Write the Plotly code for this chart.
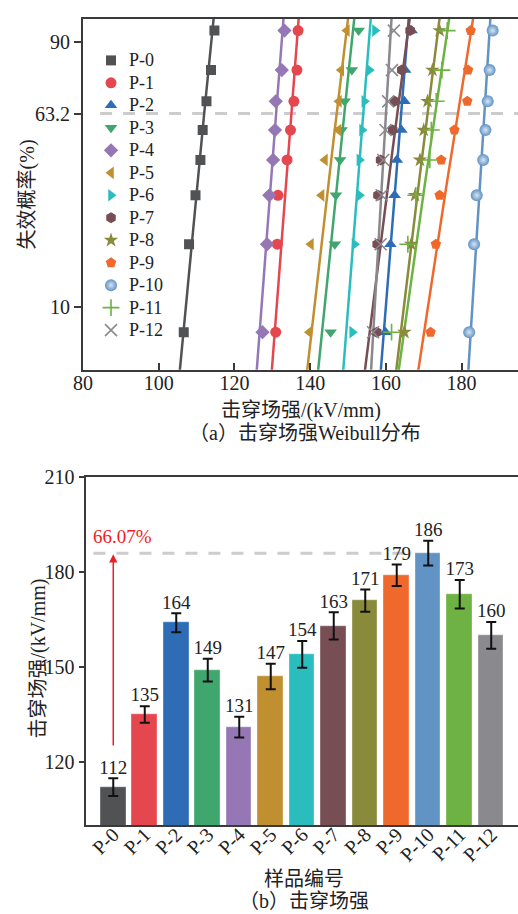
import numpy as np
import plotly.graph_objects as go

# Sample names and colours
samples = ["P-0", "P-1", "P-2", "P-3", "P-4", "P-5", "P-6",
           "P-7", "P-8", "P-9", "P-10", "P-11", "P-12"]
colors = ["#505254", "#e5474f", "#2e6db5", "#3fa66e", "#9577b5", "#c08f2f",
          "#2bbdbd", "#784e55", "#8a8a3b", "#f0692c", "#6193c4", "#6db242", "#8a8a8e"]
symbols = ["square", "circle", "triangle-up", "triangle-down", "diamond",
           "triangle-left", "triangle-right", "hexagon", "star", "pentagon",
           "circle", "cross-thin", "x-thin"]

# Failure probability (%) assigned to the ranked specimens
fail_prob = [7.6, 19.7, 32.1, 44.2, 56.2, 68.4, 80.9, 92.7]

# Measured breakdown strengths (kV/mm), ranked
bd_p0 = [106.6, 108.0, 109.7, 111.0, 111.6, 112.6, 113.8, 114.7]
bd_p1 = [130.9, 131.3, 131.5, 133.9, 134.8, 135.7, 136.5, 136.8]
bd_p2 = [159.9, 161.2, 162.3, 162.9, 164.1, 164.9, 165.1, 166.8]
bd_p3 = [145.4, 146.5, 146.8, 147.9, 148.3, 149.1, 151.0, 152.8]
bd_p4 = [127.4, 128.6, 129.2, 130.2, 130.7, 130.9, 132.5, 133.2]
bd_p5 = [139.8, 140.2, 143.0, 143.9, 147.5, 147.6, 148.2, 149.7]
bd_p6 = [151.1, 151.7, 153.0, 153.0, 153.7, 154.3, 155.6, 157.1]
bd_p7 = [157.6, 157.7, 157.9, 158.6, 161.8, 162.3, 164.2, 166.4]
bd_p8 = [164.9, 166.7, 167.7, 169.0, 170.0, 171.0, 172.3, 174.2]
bd_p9 = [171.8, 173.2, 174.2, 174.6, 178.1, 181.5, 181.7, 182.4]
bd_p10 = [182.0, 183.3, 184.0, 185.7, 186.3, 186.9, 187.4, 188.2]
bd_p11 = [161.5, 165.8, 167.9, 171.6, 172.0, 173.3, 174.8, 176.2]
bd_p12 = [156.6, 158.6, 158.9, 159.3, 159.9, 160.6, 161.6, 162.1]
bd_points = [bd_p0, bd_p1, bd_p2, bd_p3, bd_p4, bd_p5, bd_p6,
             bd_p7, bd_p8, bd_p9, bd_p10, bd_p11, bd_p12]

# Weibull scale (characteristic strength) and shape parameters
scale_alpha = [112, 135, 164, 149, 131, 147, 154, 163, 171, 179, 186, 173, 160]
shape_beta = [50.2, 76.7, 89.7, 62.7, 74.6, 54.6, 85.4, 55.3, 60.0, 49.5, 130.0, 52.0, 120.0]
# Standard deviation of breakdown strength
bd_err = [2.8, 2.6, 3.0, 3.6, 3.3, 4.0, 4.2, 4.3, 3.5, 3.4, 3.9, 4.5, 4.2]

# Weibull probability axis ticks
prob_ticks = [10, 63.2, 90]
bar_ticks = [120, 150, 180, 210]


def weibull_y(p_percent):
    p = np.asarray(p_percent, dtype=float) / 100.0
    return np.log(-np.log(1.0 - p))


W, H = 518, 914
SERIF = "Liberation Serif, Times New Roman, Noto Sans CJK SC, serif"
AXC = "#3a3a3a"
TXT = "#222222"


def marker_style(i):
    thin = symbols[i].endswith("-thin")
    m = dict(symbol=symbols[i], size=12 if thin else 11, color=colors[i],
             line=dict(width=1.6 if thin else 0, color=colors[i]))
    if samples[i] == "P-10":
        m["gradient"] = dict(type="radial", color="#d6e5f3")
        m["size"] = 12
    if samples[i] == "P-0":
        m["size"] = 10
    return m


fig = go.Figure()

# ---- (a) Weibull plot ----
y_pts = weibull_y(fail_prob)
z_line = np.linspace(-3.3, 1.3, 60)
for i, name in enumerate(samples):
    x_line = scale_alpha[i] * np.exp(z_line / shape_beta[i])
    fig.add_trace(go.Scatter(
        x=x_line, y=z_line, mode="lines", xaxis="x", yaxis="y",
        line=dict(color=colors[i], width=2.5), showlegend=False, hoverinfo="skip"))
for i, name in enumerate(samples):
    fig.add_trace(go.Scatter(
        x=bd_points[i], y=y_pts, mode="markers", name=name, xaxis="x", yaxis="y",
        marker=marker_style(i), showlegend=False))

y_top_lo, y_top_hi = -2.972, 1.098
x_top_lo, x_top_hi = 80, 194.9
fig.add_shape(type="line", xref="x", yref="y", x0=84.5, x1=x_top_hi, y0=0, y1=0,
              line=dict(color="#cccccc", width=3, dash="12px,11px"), layer="below")

# Legend of (a): drawn on a page-sized pixel overlay
leg_x, leg_y0, leg_dy, leg_txt_dx = 103, 50, 22.75, 16
for i, name in enumerate(samples):
    ly = leg_y0 + i * leg_dy
    fig.add_trace(go.Scatter(
        x=[leg_x], y=[ly], mode="markers", xaxis="x3", yaxis="y3",
        marker=marker_style(i), showlegend=False, hoverinfo="skip"))
    fig.add_annotation(xref="x3", yref="y3", x=leg_x + leg_txt_dx, y=ly, text=name,
                       showarrow=False, xanchor="left", yanchor="middle",
                       font=dict(family=SERIF, size=18, color=TXT))

# ---- (b) bar chart ----
xi = list(range(len(samples)))
fig.add_trace(go.Bar(
    x=xi, y=scale_alpha, xaxis="x2", yaxis="y2", width=0.81, showlegend=False,
    marker=dict(color=colors, line=dict(color="rgba(255,255,255,0.35)", width=1)),
    error_y=dict(type="data", array=bd_err, visible=True, color="#111111",
                 thickness=2, width=5)))
fig.add_trace(go.Scatter(
    x=xi, y=[v + e for v, e in zip(scale_alpha, bd_err)], xaxis="x2", yaxis="y2",
    mode="text", text=[str(v) for v in scale_alpha], textposition="top center",
    textfont=dict(family=SERIF, size=19, color=TXT), showlegend=False,
    hoverinfo="skip"))

ref_val = scale_alpha[10]
fig.add_shape(type="line", xref="x2", yref="y2", x0=-0.63, x1=10 - 0.405,
              y0=ref_val, y1=ref_val,
              line=dict(color="#cccccc", width=3, dash="12px,11px"), layer="below")
fig.add_annotation(xref="x2", yref="y2", x=0, y=ref_val - 0.3, ax=0, ay=124.7,
                   axref="x2", ayref="y2", showarrow=True, arrowhead=2,
                   arrowsize=1.1, arrowwidth=1.5, arrowcolor="#ee1c25", text="")
fig.add_annotation(xref="x2", yref="y2", x=-0.72, y=191.3, xanchor="left",
                   text="66.07%", showarrow=False,
                   font=dict(family=SERIF, size=19, color="#ee1c25"))

# ---- axes ----
def pdom(y_top_px, y_bot_px):
    return [1 - y_bot_px / H, 1 - y_top_px / H]

common_axis = dict(showline=True, linecolor=AXC, linewidth=2, showgrid=False,
                   zeroline=False, tickfont=dict(family=SERIF, size=20, color=TXT))

fig.update_layout(
    width=W, height=H, margin=dict(l=0, r=0, t=0, b=0),
    paper_bgcolor="white", plot_bgcolor="rgba(0,0,0,0)",
    font=dict(family=SERIF, size=18, color=TXT),
    bargap=0, showlegend=False,
    xaxis=dict(domain=[74.5 / W, 1], range=[x_top_lo, x_top_hi], anchor="y",
               tickvals=[80, 100, 120, 140, 160, 180], ticks="inside", ticklen=7,
               tickwidth=1.5, tickcolor=AXC, mirror=True, ticklabelstandoff=-6,
               **common_axis),
    yaxis=dict(domain=pdom(8, 363), range=[y_top_lo, y_top_hi], anchor="x",
               tickvals=list(weibull_y(prob_ticks)),
               ticktext=[str(t) for t in prob_ticks], ticks="outside", ticklen=7,
               tickwidth=1.5, tickcolor=AXC, **common_axis),
    xaxis2=dict(domain=[77 / W, 1], range=[-0.881, 12.85], anchor="y2",
                tickvals=xi, ticktext=samples, tickangle=-45, ticks="",
                mirror=True, ticklabelstandoff=-12, **common_axis),
    yaxis2=dict(domain=pdom(472, 824), range=[100, 210], anchor="x2",
                tickvals=bar_ticks, ticks="outside", ticklen=5, tickwidth=1.5,
                tickcolor=AXC, **common_axis),
    xaxis3=dict(domain=[0, 1], range=[0, W], anchor="y3", visible=False,
                fixedrange=True),
    yaxis3=dict(domain=[0, 1], range=[H, 0], anchor="x3", visible=False,
                fixedrange=True),
)

# Axis titles and captions
texts = [
    (18 / W, 1 - 186 / H, "失效概率(%)", -90),
    (297 / W, 1 - 404 / H, "击穿场强/(kV/mm)", 0),
    (301 / W, 1 - 427 / H, "（a）击穿场强Weibull分布", 0),
    (29 / W, 1 - 655 / H, "击穿场强/(kV/mm)", -90),
    (300 / W, 1 - 879 / H, "样品编号", 0),
    (300 / W, 1 - 901 / H, "（b）击穿场强", 0),
]
for x, y, t, ang in texts:
    fig.add_annotation(xref="paper", yref="paper", x=x, y=y, text=t, showarrow=False,
                       textangle=ang, xanchor="center", yanchor="middle",
                       font=dict(family=SERIF, size=20, color=TXT))

fig.write_html("out.html")
